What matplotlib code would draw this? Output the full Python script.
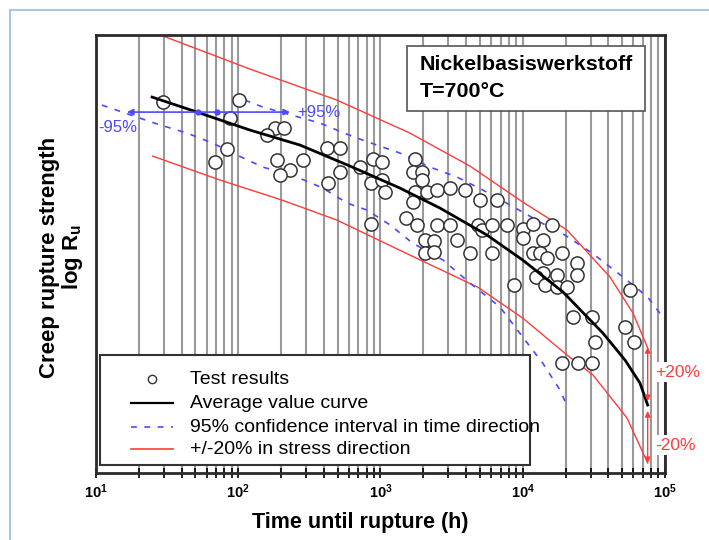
import matplotlib.pyplot as plt
from matplotlib.lines import Line2D
from matplotlib.patches import Rectangle
from matplotlib.ticker import LogLocator, NullFormatter, FixedLocator, FixedFormatter

plt.rcParams['font.family'] = ['Liberation Sans', 'DejaVu Sans']
plt.rcParams['mathtext.fontset'] = 'custom'
plt.rcParams['mathtext.rm'] = 'Liberation Sans'
plt.rcParams['mathtext.bf'] = 'Liberation Sans:bold'
plt.rcParams['mathtext.it'] = 'Liberation Sans:italic'

# test results: time until rupture (h) and log R_u (arbitrary units)
test_t = [29.6, 101, 87, 181, 210, 159, 83, 69, 187, 231, 197, 285, 421, 519, 519,
          428, 718, 879, 1030, 851, 1030, 1080, 1750, 1680, 1970, 1970, 1750, 2120,
          1680, 1500, 1810, 851, 2060, 2380, 2060, 2380, 2500, 3080, 3930, 5000,
          6590, 2500, 3080, 4810, 5170, 6130, 7750, 10000, 11800, 16100, 3450,
          10000, 13800, 4260, 6130, 11800, 13200, 14800, 13800, 17400, 8680, 18900,
          24100, 24100, 12400, 14300, 17400, 20500, 56800, 22600, 30700, 52400,
          60500, 32200, 18900, 24500, 30700]
test_y = [3.71, 3.73, 3.55, 3.45, 3.45, 3.38, 3.24, 3.11, 3.13, 3.03, 2.98, 3.13, 3.25,
          3.25, 3.01, 2.90, 3.06, 3.14, 3.11, 2.90, 2.93, 2.81, 3.14, 3.01, 3.01, 2.93,
          2.81, 2.81, 2.71, 2.55, 2.48, 2.49, 2.33, 2.32, 2.20, 2.21, 2.83, 2.85, 2.83,
          2.73, 2.73, 2.48, 2.48, 2.48, 2.43, 2.48, 2.48, 2.44, 2.49, 2.48, 2.33, 2.35,
          2.33, 2.20, 2.20, 2.20, 2.20, 2.15, 2.00, 1.98, 1.88, 2.20, 2.10, 1.98, 1.96,
          1.88, 1.86, 1.86, 1.83, 1.56, 1.56, 1.46, 1.31, 1.31, 1.10, 1.10, 1.10]

# average value curve
avg_t = [24.8, 53.8, 121, 272, 610, 1370, 2620, 5610, 10000, 19200, 36600, 52400, 66700, 75600]
avg_y = [3.76, 3.60, 3.43, 3.28, 3.07, 2.85, 2.65, 2.38, 2.13, 1.81, 1.40, 1.13, 0.90, 0.68]

# +/-20 % in stress direction
up20_t = [24, 121, 494, 1610, 4260, 10000, 20500, 41100, 59600, 75600]
up20_y = [4.42, 4.04, 3.73, 3.40, 3.07, 2.71, 2.43, 1.96, 1.60, 1.25]
lo20_t = [25, 74.5, 203, 494, 1610, 4810, 10000, 20500, 31200, 54100, 75600]
lo20_y = [3.17, 2.93, 2.73, 2.53, 2.18, 1.86, 1.55, 1.18, 0.98, 0.55, 0.10]

# 95 % confidence interval in time direction
lo95_t = [11, 27, 43.6, 66, 98, 149, 259, 394, 582, 804, 1170, 1680, 2750, 4260,
          6920, 10000, 13800, 18300, 20800]
lo95_y = [3.68, 3.49, 3.40, 3.30, 3.18, 3.06, 2.96, 2.85, 2.70, 2.63, 2.48, 2.30,
          2.13, 1.90, 1.66, 1.36, 1.10, 0.83, 0.65]
up95_t = [111, 149, 376, 494, 684, 945, 1370, 2230, 3450, 5250, 10000, 13200, 19800,
          30700, 46700, 59600, 75600, 95300]
up95_y = [3.73, 3.66, 3.50, 3.43, 3.35, 3.28, 3.20, 3.06, 2.96, 2.83, 2.61, 2.51,
          2.38, 2.20, 2.00, 1.88, 1.76, 1.57]

decades = [10, 100, 1000, 10000, 100000]
decade_labels = [r'$\mathbf{10^{1}}$', r'$\mathbf{10^{2}}$', r'$\mathbf{10^{3}}$',
                 r'$\mathbf{10^{4}}$', r'$\mathbf{10^{5}}$']

red = '#ff3b3b'
blue = '#4a4aff'

fig = plt.figure(figsize=(7.09, 5.40), dpi=100)
ax = fig.add_axes([0.1354, 0.124, 0.8025, 0.811])
ax.set_xscale('log')
ax.set_xlim(10, 1e5)
ax.set_ylim(0, 4.38)

ax.plot(up20_t, up20_y, color=red, lw=1.0, zorder=2)
ax.plot(lo20_t, lo20_y, color=red, lw=1.0, zorder=2)
ax.plot(lo95_t, lo95_y, color=blue, lw=1.2, dashes=(3.5, 4.5), zorder=2)
ax.plot(up95_t, up95_y, color=blue, lw=1.2, dashes=(3.5, 4.5), zorder=2)
ax.plot(test_t, test_y, 'o', ms=9.5, mfc='white', mec='#333333', mew=1.1,
        ls='none', zorder=2.5)
ax.plot(avg_t, avg_y, color='black', lw=2.0, zorder=3)

# 95 % arrow
ax.annotate('', xy=(16.5, 3.61), xytext=(231, 3.61),
            arrowprops=dict(arrowstyle='<|-|>', color=blue, lw=1.2,
                            mutation_scale=9, shrinkA=0, shrinkB=0), zorder=4)
ax.plot([52, 71], [3.61, 3.61], 'o', ms=3.5, color=blue, zorder=4)
ax.text(262, 3.61, '+95%', color=blue, fontsize=12, ha='left', va='center')
ax.text(10.3, 3.46, '-95%', color=blue, fontsize=12, ha='left', va='center')

# 20 % arrows
ax.annotate('', xy=(75600, 1.26), xytext=(75600, 0.72),
            arrowprops=dict(arrowstyle='<|-|>', color=red, lw=1.0,
                            mutation_scale=8, shrinkA=0, shrinkB=0), zorder=4)
ax.annotate('', xy=(75600, 0.62), xytext=(75600, 0.10),
            arrowprops=dict(arrowstyle='<|-|>', color=red, lw=1.0,
                            mutation_scale=8, shrinkA=0, shrinkB=0), zorder=4)
box = dict(facecolor='white', edgecolor='none', pad=1.5)
ax.text(85000, 1.01, '+20%', color=red, fontsize=12.5, ha='left', va='center',
        bbox=box, zorder=6)
ax.text(85000, 0.28, '-20%', color=red, fontsize=12.5, ha='left', va='center',
        bbox=box, zorder=6)

# axes styling
ax.xaxis.set_major_locator(FixedLocator(decades))
ax.xaxis.set_major_formatter(FixedFormatter(decade_labels))
ax.xaxis.set_minor_locator(LogLocator(base=10, subs=range(2, 10), numticks=20))
ax.xaxis.set_minor_formatter(NullFormatter())
ax.set_yticks([])
ax.tick_params(axis='x', which='both', direction='inout', length=7, width=1.2,
               labelsize=10.5, pad=3)
ax.grid(True, axis='x', which='both', color='#9a9a9a', lw=1.5)
ax.set_axisbelow(True)
for s in ax.spines.values():
    s.set_linewidth(2)
    s.set_color('#2a2a2a')

ax.set_xlabel('Time until rupture (h)', fontsize=15.5, fontweight='bold')
ax.xaxis.set_label_coords(0.464, -0.089)
ax.set_ylabel('Creep rupture strength\nlog $\\mathbf{R_u}$', fontsize=16,
              fontweight='bold', linespacing=1.0)
ax.yaxis.set_label_coords(-0.02, 0.493)

# material box
ax.add_patch(Rectangle((0.5466, 0.826), 0.4184, 0.149, transform=ax.transAxes,
                       facecolor='white', edgecolor='#555555', lw=1.2, zorder=5))
ax.text(0.5694, 0.934, 'Nickelbasiswerkstoff', transform=ax.transAxes,
        fontsize=15.4, fontweight='bold', va='center', zorder=6)
ax.text(0.5694, 0.872, 'T=700°C', transform=ax.transAxes,
        fontsize=15.4, fontweight='bold', va='center', zorder=6)

# legend
ax.add_patch(Rectangle((0.007, 0.018), 0.756, 0.251, transform=ax.transAxes,
                       facecolor='white', edgecolor='#333333', lw=1.5, zorder=5))
rows = [0.2146, 0.1598, 0.105, 0.0548]
labels = ['Test results', 'Average value curve',
          '95% confidence interval in time direction', '+/-20% in stress direction']
ax.add_line(Line2D([0.0984], [rows[0]], marker='o', ms=6, mfc='white', mec='#333333',
                   mew=1.0, ls='none', transform=ax.transAxes, zorder=6))
ax.add_line(Line2D([0.0615, 0.1353], [rows[1]] * 2, color='black', lw=1.6,
                   transform=ax.transAxes, zorder=6))
ax.add_line(Line2D([0.0615, 0.1353], [rows[2]] * 2, color=blue, lw=1.2, dashes=(3.5, 4.5),
                   transform=ax.transAxes, zorder=6))
ax.add_line(Line2D([0.0615, 0.1353], [rows[3]] * 2, color=red, lw=1.2,
                   transform=ax.transAxes, zorder=6))
for r, lab in zip(rows, labels):
    ax.text(0.165, r, lab, transform=ax.transAxes, fontsize=14, va='center', zorder=6)

# light blue page frame
fig.add_artist(Line2D([0.0141, 0.0141], [0, 0.9815], color='#a8c6e6', lw=1.5))
fig.add_artist(Line2D([0.0141, 1], [0.9815, 0.9815], color='#a8c6e6', lw=1.5))

fig.savefig('out.png', dpi=100)
